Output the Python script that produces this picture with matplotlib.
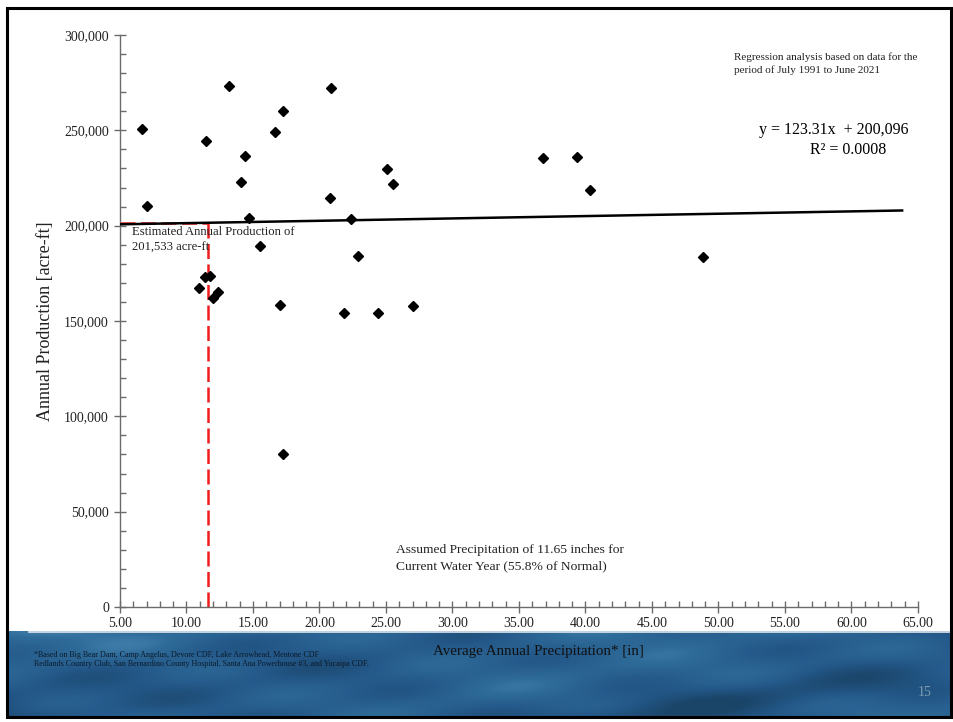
import numpy as np
import matplotlib
matplotlib.use("Agg")
import matplotlib.pyplot as plt
from matplotlib.ticker import MultipleLocator, FuncFormatter
from matplotlib.colors import LinearSegmentedColormap
from matplotlib.patches import Rectangle
from matplotlib.lines import Line2D

plt.rcParams['font.family'] = ['Liberation Serif', 'DejaVu Serif']

# ---- data ----
precip = [6.63, 7.00, 11.44, 13.20, 14.10, 14.37, 14.67, 15.55, 16.68, 17.28,
          20.84, 20.81, 22.37, 22.89, 25.05, 25.50, 10.94, 11.39, 11.77, 12.02,
          12.37, 17.03, 27.00, 17.28, 21.84, 24.42, 36.78, 39.38, 40.36, 48.86]
production = [250500, 210300, 244400, 273300, 222700, 236500, 204000, 189300, 249300, 260100,
              272400, 214500, 203400, 184100, 229600, 221900, 167500, 172900, 173400, 161900,
              165200, 158400, 157900, 80100, 154200, 154200, 235300, 236000, 218700, 183700]
slope = 123.31
intercept = 200096
trend_range = [5.0, 63.9]
assumed_precip = 11.65
estimated_prod = slope * assumed_precip + intercept  # 201,533
x_ticks = [5, 10, 15, 20, 25, 30, 35, 40, 45, 50, 55, 60, 65]
y_ticks = [0, 50000, 100000, 150000, 200000, 250000, 300000]

W, H = 954, 722
fig = plt.figure(figsize=(W / 100, H / 100), dpi=100)

def fx(px):
    return px / W

def fy(py):
    return 1 - py / H

# ---- blue band background (decorative) ----
bx0, bx1, by0, by1 = 9, 951, 631, 717
band = fig.add_axes([fx(bx0), fy(by1), fx(bx1 - bx0), (by1 - by0) / H], zorder=0)
gx, gy = np.meshgrid(np.linspace(0, 1, 470), np.linspace(0, 1, 44))
pat = (0.55 + 0.14 * np.sin(9 * gx + 4 * gy + 1.0) + 0.10 * np.sin(23 * gx - 7 * gy)
       + 0.08 * np.sin(5 * gx + 11 * gy * gx) - 0.15 * gy + 0.07 * np.cos(31 * gx + 13 * gy))
cmap = LinearSegmentedColormap.from_list('water', ['#1a4468', '#24598a', '#2f6c9a', '#5a98c2'])
band.imshow(pat, cmap=cmap, aspect='auto', interpolation='bilinear', vmin=0.1, vmax=1.0)
band.set_axis_off()
fig.add_artist(Line2D([fx(29), fx(bx1)], [fy(by0 + 0.5), fy(by0 + 0.5)], color='#dfe8ef',
                      lw=1.2, transform=fig.transFigure, zorder=1))

# ---- main axes ----
ax = fig.add_axes([fx(120), fy(607), fx(918 - 120), (607 - 35) / H], zorder=2)
ax.set_xlim(5, 65)
ax.set_ylim(0, 300000)
for s in ['top', 'right']:
    ax.spines[s].set_visible(False)
for s in ['left', 'bottom']:
    ax.spines[s].set_color('#6b6b6b')
    ax.spines[s].set_linewidth(1.0)

ax.set_xticks(x_ticks)
ax.set_yticks(y_ticks)
ax.xaxis.set_minor_locator(MultipleLocator(1))
ax.yaxis.set_minor_locator(MultipleLocator(10000))
ax.xaxis.set_major_formatter(FuncFormatter(lambda v, p: f"{v:.2f}"))
ax.yaxis.set_major_formatter(FuncFormatter(lambda v, p: f"{int(v):,}"))
ax.tick_params(which='major', direction='inout', length=8, width=1.0, color='#6b6b6b',
               labelsize=10, labelcolor='#222222')
ax.tick_params(axis='x', which='major', pad=3)
ax.tick_params(axis='y', which='major', pad=4)
ax.tick_params(which='minor', direction='in', length=4, width=1.0, color='#6b6b6b')

# red dashed guide lines
ax.plot([assumed_precip, assumed_precip], [0, estimated_prod], color='#f01c1c', lw=1.8,
        dashes=(6, 2.2), zorder=2, clip_on=False)
ax.plot([5, assumed_precip], [estimated_prod, estimated_prod], color='#f01c1c', lw=1.8,
        dashes=(6, 2.2), zorder=2, clip_on=False)

# trend line
tx = np.array(trend_range)
ax.plot(tx, slope * tx + intercept, color='black', lw=1.8, zorder=3, solid_capstyle='butt')

# scatter
ax.plot(precip, production, linestyle='none', marker='D', markersize=5.2,
        color='black', zorder=4)

# ---- texts ----
fig.text(fx(734), fy(52), "Regression analysis based on data for the\nperiod of July 1991 to June 2021",
         fontsize=8, ha='left', va='top', color='#222222', linespacing=1.45)
fig.text(fx(834), fy(130), "y = 123.31x  + 200,096", fontsize=11.5, ha='center', va='center')
fig.text(fx(848), fy(150), "R² = 0.0008", fontsize=11.5, ha='center', va='center')
fig.text(fx(132), fy(226), "Estimated Annual Production of\n201,533 acre-ft",
         fontsize=9.1, ha='left', va='top', color='#222222', linespacing=1.4)
fig.text(fx(396), fy(544), "Assumed Precipitation of 11.65 inches for\nCurrent Water Year (55.8% of Normal)",
         fontsize=9.7, ha='left', va='top', color='#222222', linespacing=1.45)
fig.text(fx(46), fy(321), "Annual Production [acre-ft]", rotation=90, fontsize=13,
         ha='center', va='center', color='#222222')
fig.text(fx(538), fy(651), "Average Annual Precipitation* [in]", fontsize=10.8,
         ha='center', va='center', color='#111111', zorder=5)
fig.text(fx(34), fy(651), "*Based on Big Bear Dam, Camp Angelus, Devore CDF, Lake Arrowhead, Mentone CDF\n"
         "Redlands Country Club, San Bernardino County Hospital, Santa Ana Powerhouse #3, and Yucaipa CDF.",
         fontsize=5.8, ha='left', va='top', color='#0b1a28', linespacing=1.15, zorder=5)
fig.text(fx(925), fy(693), "15", fontsize=10, ha='center', va='center', color='#7f9bb2', zorder=5)

# slide frame
fig.add_artist(Rectangle((fx(7), fy(717)), fx(951 - 7), (717 - 8) / H, transform=fig.transFigure,
                         fill=False, ec='black', lw=2.2, zorder=10))

fig.savefig("out.png", dpi=100)
